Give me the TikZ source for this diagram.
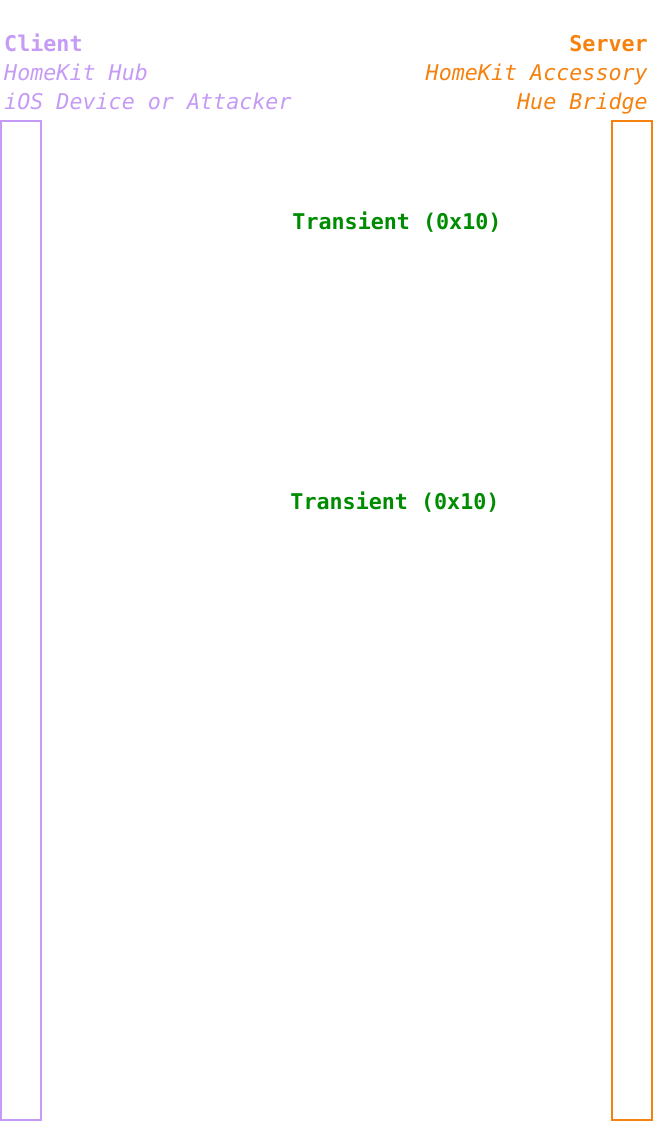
\documentclass[tikz,border=0pt]{standalone}
\usepackage{fontspec}
\setmonofont{DejaVu Sans Mono}
\begin{document}
\begin{tikzpicture}[x=1pt,y=-1pt,
  lbl/.style={font=\ttfamily\fontsize{21.7}{26}\selectfont, inner sep=0pt},
  msg/.style={lbl, font=\ttfamily\bfseries\fontsize{21.7}{26}\selectfont, text=green!55!black},
  life/.style={line width=1.6pt}]
\definecolor{cli}{HTML}{C59BF5}
\definecolor{srv}{HTML}{F5820F}
\useasboundingbox (0,0) rectangle (654,1122);
\draw[life,cli] (1,121) rectangle (41,1120);
\draw[life,srv] (612,121) rectangle (652,1120);
\node[lbl,anchor=base west,text=cli,font=\ttfamily\bfseries\fontsize{21.7}{26}\selectfont] (c1) at (4,51) {Client};
\node[lbl,anchor=base west,text=cli,font=\ttfamily\itshape\fontsize{21.7}{26}\selectfont] (c2) at (4,80) {HomeKit Hub};
\node[lbl,anchor=base west,text=cli,font=\ttfamily\itshape\fontsize{21.7}{26}\selectfont] (c3) at (4,109) {iOS Device or Attacker};
\node[lbl,anchor=base east,text=srv,font=\ttfamily\bfseries\fontsize{21.7}{26}\selectfont] (s1) at (648,51) {Server};
\node[lbl,anchor=base east,text=srv,font=\ttfamily\itshape\fontsize{21.7}{26}\selectfont] (s2) at (648,80) {HomeKit Accessory};
\node[lbl,anchor=base east,text=srv,font=\ttfamily\itshape\fontsize{21.7}{26}\selectfont] (s3) at (648,109) {Hue Bridge};
\node[msg,anchor=base] (m1) at (397,229) {Transient (0x10)};
\node[msg,anchor=base] (m2) at (395,509) {Transient (0x10)};
\end{tikzpicture}
\end{document}
